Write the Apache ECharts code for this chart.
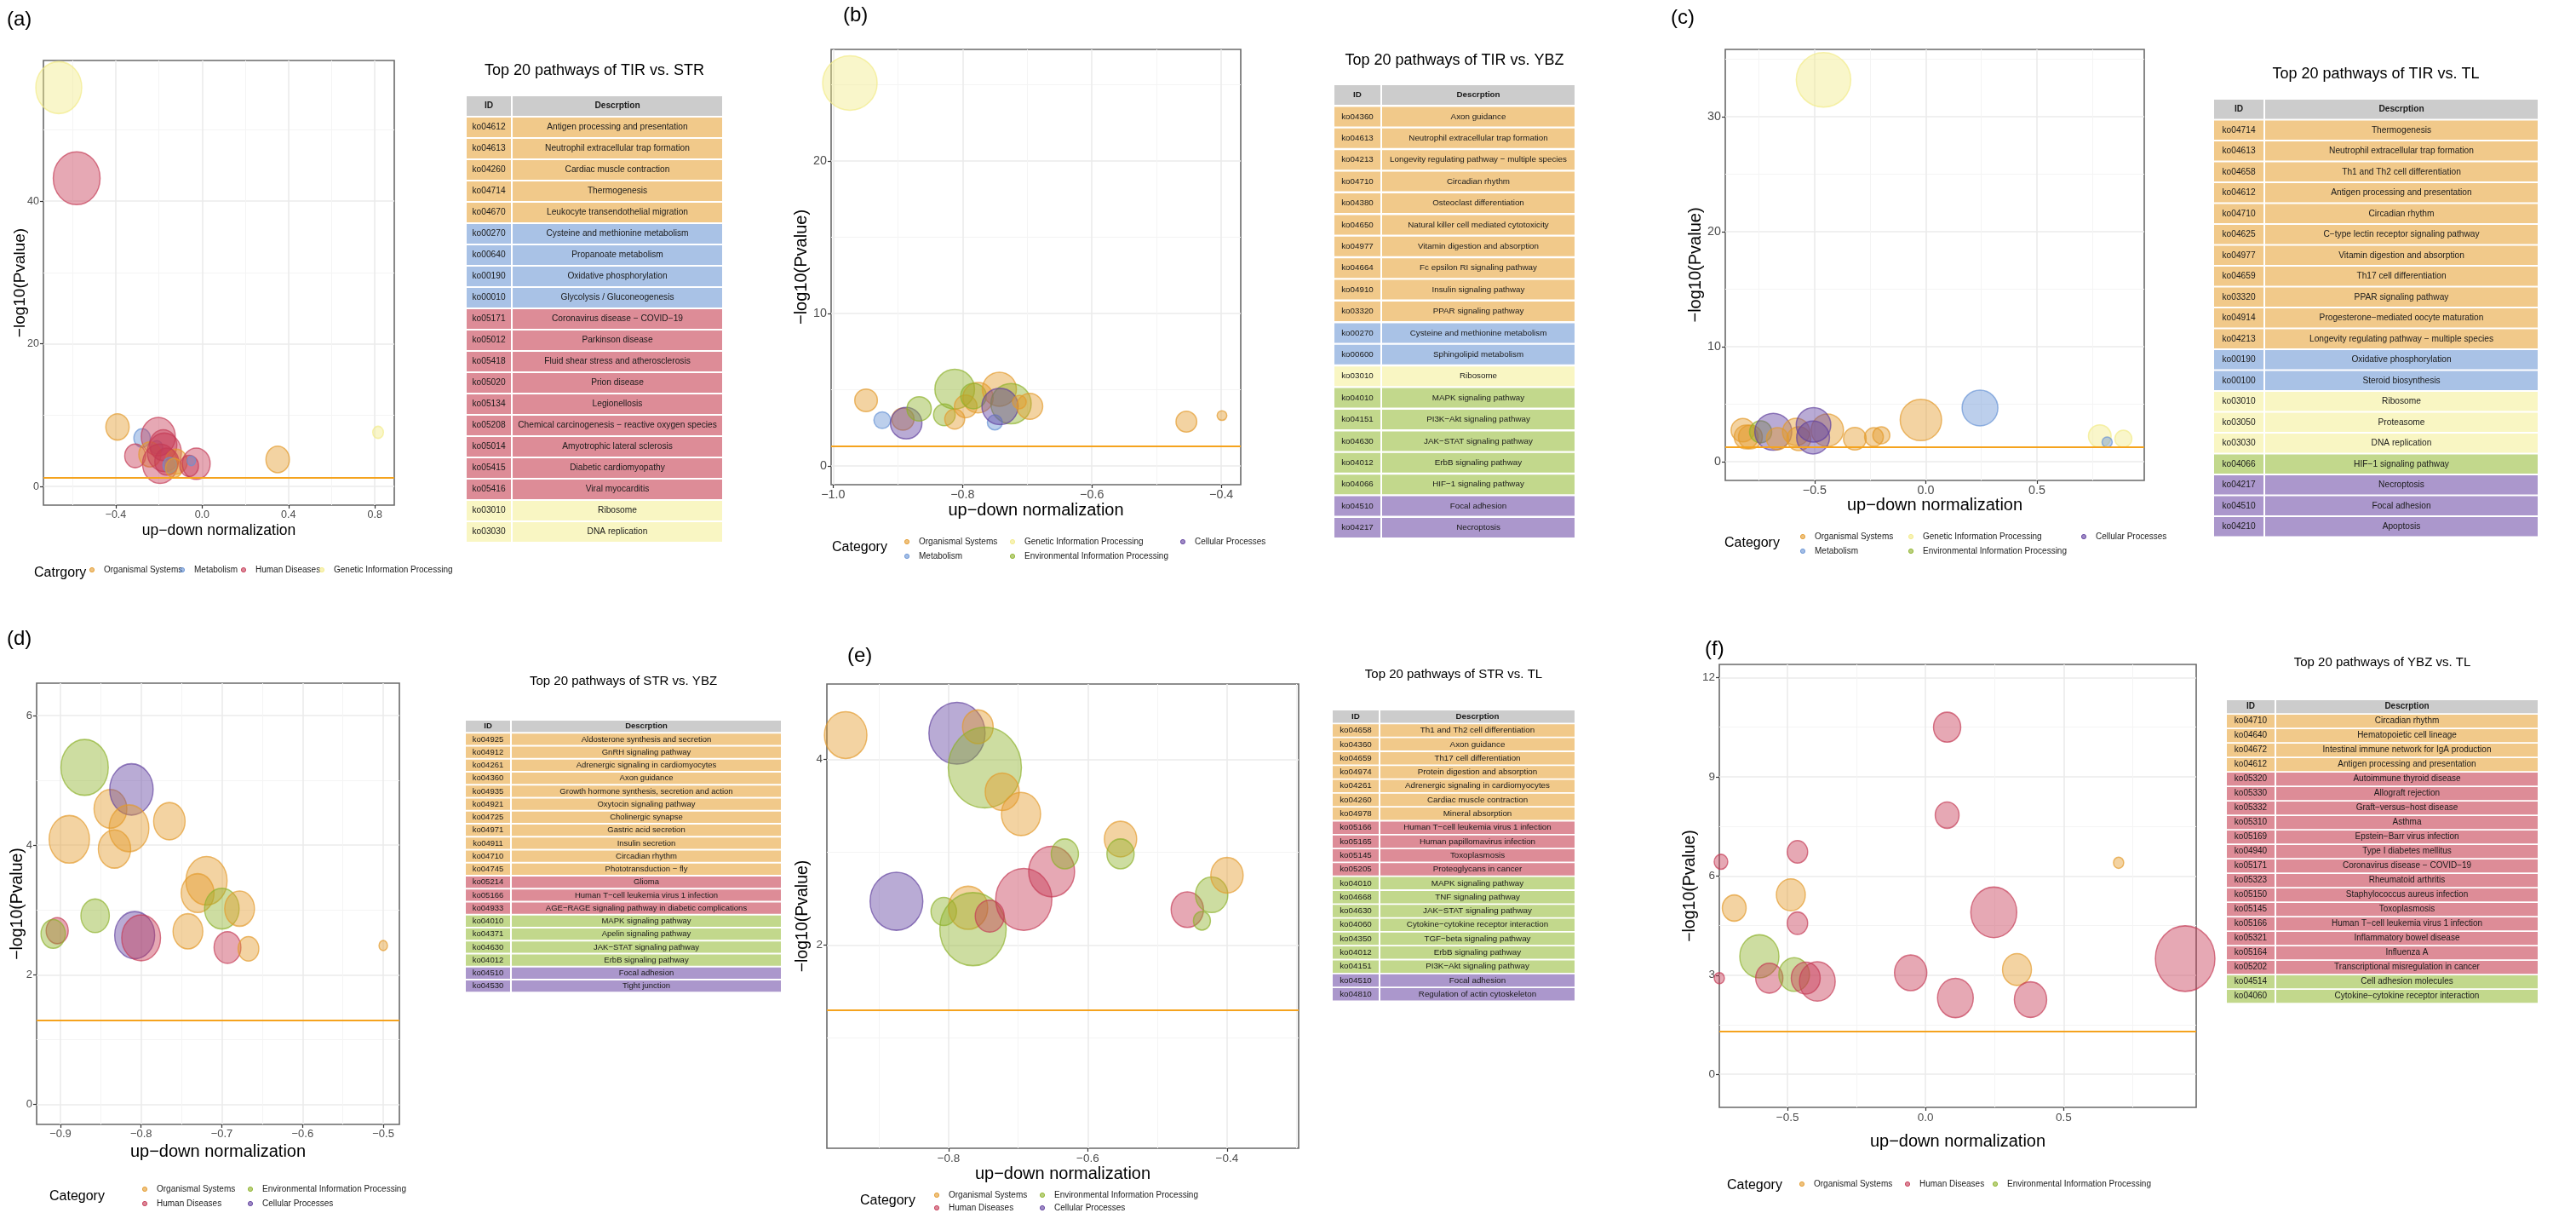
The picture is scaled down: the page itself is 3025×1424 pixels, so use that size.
<!DOCTYPE html>
<html>
<head>
<meta charset="utf-8">
<title>Top 20 pathways</title>
<script src="https://cdn.jsdelivr.net/npm/echarts@6/dist/echarts.min.js"></script>
<style>
html, body { margin: 0; padding: 0; background: #fff; }
#chart { width: 3025px; height: 1424px; }
</style>
</head>
<body>
<div id="chart"></div>
<script>
// ---- categories ----
var catNames = {
	O: 'Organismal Systems',
	M: 'Metabolism',
	H: 'Human Diseases',
	G: 'Genetic Information Processing',
	E: 'Environmental Information Processing',
	C: 'Cellular Processes'
};
var pCutoff = 0.05;

// ---- (a) TIR vs. STR ----  [up-down normalization, -log10(Pvalue), count, category]
var aPoints = [
	[-0.664, 55.9, 27, 'G'], [-0.581, 43.2, 27.5, 'H'], [-0.392, 8.36, 13.7, 'O'],
	[-0.278, 6.8, 9.7, 'M'], [-0.21, 5.5, 7, 'M'], [-0.203, 7.0, 20, 'H'],
	[-0.31, 4.3, 12.3, 'H'], [-0.242, 4.5, 13, 'O'], [-0.18, 5.8, 16, 'H'],
	[-0.195, 3.2, 20.5, 'H'], [-0.175, 4.8, 20, 'H'], [-0.12, 3.5, 13, 'O'],
	[-0.164, 3.5, 14, 'H'], [-0.15, 3.0, 8, 'M'], [-0.13, 2.6, 10, 'O'],
	[-0.06, 2.9, 11, 'H'], [-0.027, 3.2, 16.3, 'H'], [-0.05, 3.6, 5, 'M'],
	[0.35, 3.8, 13.8, 'O'], [0.815, 7.6, 6.3, 'G']
];
var aXTicks = [-0.4, 0, 0.4, 0.8];
var aYTicks = [0, 20, 40];
var aLegendCats = ['O', 'M', 'H', 'G'];
var aRows = [
	['ko04612', 'Antigen processing and presentation', 'O'],
	['ko04613', 'Neutrophil extracellular trap formation', 'O'],
	['ko04260', 'Cardiac muscle contraction', 'O'],
	['ko04714', 'Thermogenesis', 'O'],
	['ko04670', 'Leukocyte transendothelial migration', 'O'],
	['ko00270', 'Cysteine and methionine metabolism', 'M'],
	['ko00640', 'Propanoate metabolism', 'M'],
	['ko00190', 'Oxidative phosphorylation', 'M'],
	['ko00010', 'Glycolysis / Gluconeogenesis', 'M'],
	['ko05171', 'Coronavirus disease \u2212 COVID\u221219', 'H'],
	['ko05012', 'Parkinson disease', 'H'],
	['ko05418', 'Fluid shear stress and atherosclerosis', 'H'],
	['ko05020', 'Prion disease', 'H'],
	['ko05134', 'Legionellosis', 'H'],
	['ko05208', 'Chemical carcinogenesis \u2212 reactive oxygen species', 'H'],
	['ko05014', 'Amyotrophic lateral sclerosis', 'H'],
	['ko05415', 'Diabetic cardiomyopathy', 'H'],
	['ko05416', 'Viral myocarditis', 'H'],
	['ko03010', 'Ribosome', 'G'],
	['ko03030', 'DNA replication', 'G']
];

// ---- (b) TIR vs. YBZ ----
var bPoints = [
	[-0.974, 25.1, 32, 'G'], [-0.949, 4.30, 13.3, 'O'], [-0.924, 3.0, 9.8, 'M'],
	[-0.892, 3.07, 13, 'O'], [-0.887, 2.8, 18.5, 'C'], [-0.867, 3.74, 14.3, 'E'],
	[-0.828, 3.35, 12.7, 'E'], [-0.812, 3.07, 11.7, 'O'], [-0.812, 5.03, 23.3, 'E'],
	[-0.795, 3.9, 13.3, 'O'], [-0.776, 4.47, 17.8, 'O'], [-0.783, 4.58, 15, 'E'],
	[-0.743, 5.03, 20, 'O'], [-0.725, 4.08, 23.7, 'E'], [-0.75, 2.85, 8.8, 'M'],
	[-0.742, 3.9, 21.3, 'C'], [-0.712, 4.19, 8, 'O'], [-0.696, 3.91, 15.2, 'O'],
	[-0.454, 2.9, 12.2, 'O'], [-0.399, 3.3, 5.7, 'O']
];
var bXTicks = [-1.0, -0.8, -0.6, -0.4];
var bYTicks = [0, 10, 20];
var bLegendCats = ['O', 'M', 'G', 'E', 'C'];
var bRows = [
	['ko04360', 'Axon guidance', 'O'],
	['ko04613', 'Neutrophil extracellular trap formation', 'O'],
	['ko04213', 'Longevity regulating pathway \u2212 multiple species', 'O'],
	['ko04710', 'Circadian rhythm', 'O'],
	['ko04380', 'Osteoclast differentiation', 'O'],
	['ko04650', 'Natural killer cell mediated cytotoxicity', 'O'],
	['ko04977', 'Vitamin digestion and absorption', 'O'],
	['ko04664', 'Fc epsilon RI signaling pathway', 'O'],
	['ko04910', 'Insulin signaling pathway', 'O'],
	['ko03320', 'PPAR signaling pathway', 'O'],
	['ko00270', 'Cysteine and methionine metabolism', 'M'],
	['ko00600', 'Sphingolipid metabolism', 'M'],
	['ko03010', 'Ribosome', 'G'],
	['ko04010', 'MAPK signaling pathway', 'E'],
	['ko04151', 'PI3K\u2212Akt signaling pathway', 'E'],
	['ko04630', 'JAK\u2212STAT signaling pathway', 'E'],
	['ko04012', 'ErbB signaling pathway', 'E'],
	['ko04066', 'HIF\u22121 signaling pathway', 'E'],
	['ko04510', 'Focal adhesion', 'C'],
	['ko04217', 'Necroptosis', 'C']
];

// ---- (c) TIR vs. TL ----
var cPoints = [
	[-0.46, 33.2, 32, 'G'], [-0.823, 2.74, 13.8, 'O'], [-0.808, 2.15, 14, 'O'],
	[-0.789, 2.15, 14, 'O'], [-0.743, 2.6, 13, 'E'], [-0.686, 2.6, 21.7, 'C'],
	[-0.667, 2.0, 13, 'O'], [-0.583, 2.6, 16, 'O'], [-0.571, 2.0, 14, 'O'],
	[-0.443, 2.74, 19, 'O'], [-0.505, 3.2, 20.3, 'C'], [-0.507, 2.1, 19.3, 'C'],
	[-0.319, 2.0, 13.3, 'O'], [-0.233, 2.15, 11, 'O'], [-0.2, 2.3, 10, 'O'],
	[-0.022, 3.63, 24.3, 'O'], [0.244, 4.67, 21, 'M'], [0.783, 2.22, 13.3, 'G'],
	[0.816, 1.7, 6, 'M'], [0.889, 2.0, 10, 'G']
];
var cXTicks = [-0.5, 0, 0.5];
var cYTicks = [0, 10, 20, 30];
var cLegendCats = ['O', 'M', 'G', 'E', 'C'];
var cRows = [
	['ko04714', 'Thermogenesis', 'O'],
	['ko04613', 'Neutrophil extracellular trap formation', 'O'],
	['ko04658', 'Th1 and Th2 cell differentiation', 'O'],
	['ko04612', 'Antigen processing and presentation', 'O'],
	['ko04710', 'Circadian rhythm', 'O'],
	['ko04625', 'C\u2212type lectin receptor signaling pathway', 'O'],
	['ko04977', 'Vitamin digestion and absorption', 'O'],
	['ko04659', 'Th17 cell differentiation', 'O'],
	['ko03320', 'PPAR signaling pathway', 'O'],
	['ko04914', 'Progesterone\u2212mediated oocyte maturation', 'O'],
	['ko04213', 'Longevity regulating pathway \u2212 multiple species', 'O'],
	['ko00190', 'Oxidative phosphorylation', 'M'],
	['ko00100', 'Steroid biosynthesis', 'M'],
	['ko03010', 'Ribosome', 'G'],
	['ko03050', 'Proteasome', 'G'],
	['ko03030', 'DNA replication', 'G'],
	['ko04066', 'HIF\u22121 signaling pathway', 'E'],
	['ko04217', 'Necroptosis', 'C'],
	['ko04510', 'Focal adhesion', 'C'],
	['ko04210', 'Apoptosis', 'C']
];

// ---- (d) STR vs. YBZ ----
var dPoints = [
	[-0.870, 5.20, 27.8, 'E'], [-0.838, 4.56, 19.3, 'O'], [-0.812, 4.86, 25.5, 'C'],
	[-0.815, 4.26, 23.3, 'O'], [-0.889, 4.09, 23.7, 'O'], [-0.833, 3.94, 19, 'O'],
	[-0.765, 4.37, 18.5, 'O'], [-0.719, 3.45, 24.2, 'O'], [-0.730, 3.26, 19.3, 'O'],
	[-0.700, 3.02, 20.3, 'E'], [-0.678, 3.02, 17.5, 'O'], [-0.857, 2.91, 16.7, 'E'],
	[-0.904, 2.68, 13, 'H'], [-0.909, 2.63, 14.3, 'E'], [-0.808, 2.61, 23.5, 'C'],
	[-0.800, 2.57, 22.8, 'H'], [-0.742, 2.67, 17.5, 'O'], [-0.693, 2.42, 15.8, 'H'],
	[-0.667, 2.40, 12.2, 'O'], [-0.500, 2.45, 5, 'O']
];
var dXTicks = [-0.9, -0.8, -0.7, -0.6, -0.5];
var dYTicks = [0, 2, 4, 6];
var dLegendCats = ['O', 'H', 'E', 'C'];
var dRows = [
	['ko04925', 'Aldosterone synthesis and secretion', 'O'],
	['ko04912', 'GnRH signaling pathway', 'O'],
	['ko04261', 'Adrenergic signaling in cardiomyocytes', 'O'],
	['ko04360', 'Axon guidance', 'O'],
	['ko04935', 'Growth hormone synthesis, secretion and action', 'O'],
	['ko04921', 'Oxytocin signaling pathway', 'O'],
	['ko04725', 'Cholinergic synapse', 'O'],
	['ko04971', 'Gastric acid secretion', 'O'],
	['ko04911', 'Insulin secretion', 'O'],
	['ko04710', 'Circadian rhythm', 'O'],
	['ko04745', 'Phototransduction \u2212 fly', 'O'],
	['ko05214', 'Glioma', 'H'],
	['ko05166', 'Human T\u2212cell leukemia virus 1 infection', 'H'],
	['ko04933', 'AGE\u2212RAGE signaling pathway in diabetic complications', 'H'],
	['ko04010', 'MAPK signaling pathway', 'E'],
	['ko04371', 'Apelin signaling pathway', 'E'],
	['ko04630', 'JAK\u2212STAT signaling pathway', 'E'],
	['ko04012', 'ErbB signaling pathway', 'E'],
	['ko04510', 'Focal adhesion', 'C'],
	['ko04530', 'Tight junction', 'C']
];

// ---- (e) STR vs. TL ----
var ePoints = [
	[-0.948, 4.26, 25, 'O'], [-0.788, 4.28, 33, 'C'], [-0.758, 4.35, 18, 'O'],
	[-0.748, 3.91, 43, 'E'], [-0.723, 3.65, 20, 'O'], [-0.696, 3.41, 23, 'O'],
	[-0.875, 2.47, 31, 'C'], [-0.807, 2.36, 15, 'E'], [-0.772, 2.40, 23, 'O'],
	[-0.765, 2.17, 39, 'E'], [-0.741, 2.31, 17, 'H'], [-0.692, 2.49, 33, 'H'],
	[-0.652, 2.79, 27, 'H'], [-0.633, 2.98, 16, 'E'], [-0.553, 3.14, 19, 'O'],
	[-0.553, 2.98, 16, 'E'], [-0.457, 2.38, 19, 'H'], [-0.422, 2.54, 19, 'E'],
	[-0.436, 2.26, 10, 'E'], [-0.400, 2.75, 19, 'O']
];
var eXTicks = [-0.8, -0.6, -0.4];
var eYTicks = [2, 4];
var eLegendCats = ['O', 'H', 'E', 'C'];
var eRows = [
	['ko04658', 'Th1 and Th2 cell differentiation', 'O'],
	['ko04360', 'Axon guidance', 'O'],
	['ko04659', 'Th17 cell differentiation', 'O'],
	['ko04974', 'Protein digestion and absorption', 'O'],
	['ko04261', 'Adrenergic signaling in cardiomyocytes', 'O'],
	['ko04260', 'Cardiac muscle contraction', 'O'],
	['ko04978', 'Mineral absorption', 'O'],
	['ko05166', 'Human T\u2212cell leukemia virus 1 infection', 'H'],
	['ko05165', 'Human papillomavirus infection', 'H'],
	['ko05145', 'Toxoplasmosis', 'H'],
	['ko05205', 'Proteoglycans in cancer', 'H'],
	['ko04010', 'MAPK signaling pathway', 'E'],
	['ko04668', 'TNF signaling pathway', 'E'],
	['ko04630', 'JAK\u2212STAT signaling pathway', 'E'],
	['ko04060', 'Cytokine\u2212cytokine receptor interaction', 'E'],
	['ko04350', 'TGF\u2212beta signaling pathway', 'E'],
	['ko04012', 'ErbB signaling pathway', 'E'],
	['ko04151', 'PI3K\u2212Akt signaling pathway', 'E'],
	['ko04510', 'Focal adhesion', 'C'],
	['ko04810', 'Regulation of actin cytoskeleton', 'C']
];

// ---- (f) YBZ vs. TL ----
var fPoints = [
	[-0.741, 6.43, 8, 'H'], [-0.693, 5.03, 14, 'O'], [-0.747, 2.91, 6, 'H'],
	[-0.602, 3.57, 23, 'E'], [-0.566, 2.91, 16, 'H'], [-0.476, 3.02, 18, 'E'],
	[-0.392, 2.81, 21, 'H'], [-0.434, 2.91, 17, 'H'], [-0.488, 5.43, 17, 'O'],
	[-0.464, 6.73, 12, 'H'], [-0.464, 4.57, 12, 'H'], [0.078, 10.5, 16, 'H'],
	[0.078, 7.84, 14, 'H'], [0.247, 4.9, 27, 'H'], [-0.054, 3.07, 19, 'H'],
	[0.108, 2.31, 21, 'H'], [0.331, 3.17, 17, 'O'], [0.380, 2.26, 19, 'H'],
	[0.699, 6.4, 6, 'O'], [0.94, 3.5, 35, 'H']
];
var fXTicks = [-0.5, 0, 0.5];
var fYTicks = [0, 3, 6, 9, 12];
var fLegendCats = ['O', 'H', 'E'];
var fRows = [
	['ko04710', 'Circadian rhythm', 'O'],
	['ko04640', 'Hematopoietic cell lineage', 'O'],
	['ko04672', 'Intestinal immune network for IgA production', 'O'],
	['ko04612', 'Antigen processing and presentation', 'O'],
	['ko05320', 'Autoimmune thyroid disease', 'H'],
	['ko05330', 'Allograft rejection', 'H'],
	['ko05332', 'Graft\u2212versus\u2212host disease', 'H'],
	['ko05310', 'Asthma', 'H'],
	['ko05169', 'Epstein\u2212Barr virus infection', 'H'],
	['ko04940', 'Type I diabetes mellitus', 'H'],
	['ko05171', 'Coronavirus disease \u2212 COVID\u221219', 'H'],
	['ko05323', 'Rheumatoid arthritis', 'H'],
	['ko05150', 'Staphylococcus aureus infection', 'H'],
	['ko05145', 'Toxoplasmosis', 'H'],
	['ko05166', 'Human T\u2212cell leukemia virus 1 infection', 'H'],
	['ko05321', 'Inflammatory bowel disease', 'H'],
	['ko05164', 'Influenza A', 'H'],
	['ko05202', 'Transcriptional misregulation in cancer', 'H'],
	['ko04514', 'Cell adhesion molecules', 'E'],
	['ko04060', 'Cytokine\u2212cytokine receptor interaction', 'E']
];

// ---- styles ----
var FONT = '"Liberation Sans", Arial, sans-serif';
var bubbleColor = { O: '#E39A2B', M: '#6792D4', H: '#C53A55', G: '#F2EA86', E: '#8DB22A', C: '#60409F' };
var rowColor = { O: '#F1C98A', M: '#A9C2E6', H: '#DD8C97', G: '#F9F6C3', E: '#C2D88C', C: '#AB97CC' };
var headColor = '#CCCCCC';

// layout of the six panels (positions only)
var panels = [
	{ label: '(a)', labelPos: [8, 23], pts: aPoints, xt: aXTicks, yt: aYTicks, rows: aRows,
		title: 'Top 20 pathways of TIR vs. STR', legendTitle: 'Catrgory', legendCats: aLegendCats,
		grid: { left: 51, top: 71, width: 412, height: 522 }, xr: [-0.735, 0.89], yr: [-2.6, 59.7],
		aspect: 1.13, tickFont: 12.5, xTitle: 17.5, yTitle: 19, xGap: 21, yGap: 18,
		table: { left: 548, top: 113, idW: 52, descW: 246, pitch: 25.0, rowH: 23, font: 10.2, titleY: 83, titleFont: 18 },
		legend: { x: 40, titleY: 673, nrow: 1, colX: [108, 214, 286, 378], rowY: [669] } },
	{ label: '(b)', labelPos: [990, 18], pts: bPoints, xt: bXTicks, yt: bYTicks, rows: bRows,
		title: 'Top 20 pathways of TIR vs. YBZ', legendTitle: 'Category', legendCats: bLegendCats,
		grid: { left: 976, top: 58, width: 481, height: 511 }, xr: [-1.003, -0.37], yr: [-1.23, 27.3],
		aspect: 1.0, tickFont: 14.3, xTitle: 20, yTitle: 20, xGap: 20, yGap: 25,
		table: { left: 1567, top: 100, idW: 54, descW: 226, pitch: 25.4, rowH: 23, font: 9.8, titleY: 71, titleFont: 18 },
		legend: { x: 977, titleY: 643, nrow: 2, colX: [1065, 1189, 1389], rowY: [636, 653] } },
	{ label: '(c)', labelPos: [1962, 21], pts: cPoints, xt: cXTicks, yt: cYTicks, rows: cRows,
		title: 'Top 20 pathways of TIR vs. TL', legendTitle: 'Category', legendCats: cLegendCats,
		grid: { left: 2026, top: 58, width: 492, height: 506 }, xr: [-0.902, 0.983], yr: [-1.63, 35.85],
		aspect: 1.0, tickFont: 14.3, xTitle: 20, yTitle: 20, xGap: 19, yGap: 25,
		table: { left: 2600, top: 117, idW: 58, descW: 320, pitch: 24.5, rowH: 22.5, font: 10.2, titleY: 87, titleFont: 18 },
		legend: { x: 2025, titleY: 638, nrow: 2, colX: [2117, 2244, 2447], rowY: [630, 647] } },
	{ label: '(d)', labelPos: [8, 750], pts: dPoints, xt: dXTicks, yt: dYTicks, rows: dRows,
		title: 'Top 20 pathways of STR vs. YBZ', legendTitle: 'Category', legendCats: dLegendCats,
		grid: { left: 43, top: 802, width: 426, height: 518 }, xr: [-0.9295, -0.48], yr: [-0.31, 6.5],
		aspect: 1.18, tickFont: 13, xTitle: 20, yTitle: 19.5, xGap: 22, yGap: 12,
		table: { left: 547, top: 846, idW: 52, descW: 316, pitch: 15.25, rowH: 13.3, font: 9.5, titleY: 800, titleFont: 15 },
		legend: { x: 58, titleY: 1405, nrow: 2, colX: [170, 294], rowY: [1396, 1413] } },
	{ label: '(e)', labelPos: [995, 770], pts: ePoints, xt: eXTicks, yt: eYTicks, rows: eRows,
		title: 'Top 20 pathways of STR vs. TL', legendTitle: 'Category', legendCats: eLegendCats,
		grid: { left: 971, top: 803, width: 554, height: 545 }, xr: [-0.975, -0.297], yr: [-0.19, 4.81],
		aspect: 1.1, tickFont: 13.5, xTitle: 20, yTitle: 19.5, xGap: 20, yGap: 18,
		table: { left: 1565, top: 834, idW: 54, descW: 228, pitch: 16.3, rowH: 14.5, font: 9.8, titleY: 792, titleFont: 15 },
		legend: { x: 1010, titleY: 1410, nrow: 2, colX: [1100, 1224], rowY: [1403, 1418] } },
	{ label: '(f)', labelPos: [2002, 762], pts: fPoints, xt: fXTicks, yt: fYTicks, rows: fRows,
		title: 'Top 20 pathways of YBZ vs. TL', legendTitle: 'Category', legendCats: fLegendCats,
		grid: { left: 2019, top: 780, width: 560, height: 520 }, xr: [-0.747, 0.98], yr: [-1.0, 12.4],
		aspect: 1.1, tickFont: 13.5, xTitle: 20, yTitle: 19.5, xGap: 30, yGap: 24,
		table: { left: 2615, top: 822, idW: 56, descW: 307, pitch: 17, rowH: 15.2, font: 10, titleY: 778, titleFont: 15 },
		legend: { x: 2028, titleY: 1392, nrow: 1, colX: [2116, 2240, 2343], rowY: [1390] } }
];

function rgba(hex, a) {
	var n = parseInt(hex.slice(1), 16);
	return 'rgba(' + (n >> 16 & 255) + ',' + (n >> 8 & 255) + ',' + (n & 255) + ',' + a + ')';
}
function fmt(dec) {
	return function (v) {
		var s = Math.abs(v).toFixed(dec);
		return (v < -1e-9 ? '\u2212' : '') + s;
	};
}
function decimals(ticks) {
	var d = 0;
	ticks.forEach(function (t) {
		var s = String(t).split('.')[1];
		if (s && s.length > d) d = s.length;
	});
	return d;
}
// ggplot-style minor grid: halfway between the major breaks
function minorOf(ticks, min, max) {
	var step = ticks[1] - ticks[0], out = [];
	for (var v = ticks[0] - step / 2; v <= max + 1e-9; v += step) {
		var r = Math.round(v * 1e6) / 1e6;
		if (r >= min) out.push(r);
	}
	return out;
}

var grids = [], xAxes = [], yAxes = [], series = [], graphics = [];
var cutoffY = -Math.log10(pCutoff);

panels.forEach(function (p, i) {
	grids.push({
		left: p.grid.left, top: p.grid.top, width: p.grid.width, height: p.grid.height,
		show: true, backgroundColor: '#fff', borderColor: '#6A6A6A', borderWidth: 1.6,
		containLabel: false, outerBoundsMode: 'none'
	});
	var xDec = decimals(p.xt);
	xAxes.push({
		gridIndex: i, type: 'value', min: p.xr[0], max: p.xr[1], position: 'bottom',
		axisLine: { show: false, onZero: false },
		axisTick: { show: true, length: 4, lineStyle: { color: '#333', width: 1.2 }, customValues: p.xt },
		axisLabel: { show: true, customValues: p.xt, formatter: fmt(xDec === 0 ? 1 : xDec), fontSize: p.tickFont, color: '#4D4D4D', fontFamily: FONT, margin: 5 },
		splitLine: { show: true, lineStyle: { color: '#EBEBEB', width: 1.6 } },
		name: 'up\u2212down normalization', nameLocation: 'middle', nameGap: p.xGap, nameMoveOverlap: false,
		nameTextStyle: { fontSize: p.xTitle, color: '#000', fontFamily: FONT, verticalAlign: 'top' }
	});
	xAxes.push({
		gridIndex: i, type: 'value', min: p.xr[0], max: p.xr[1], position: 'top',
		axisLine: { show: false, onZero: false },
		axisTick: { show: false, customValues: minorOf(p.xt, p.xr[0], p.xr[1]) },
		axisLabel: { show: false },
		splitLine: { show: true, lineStyle: { color: '#F4F4F4', width: 1 } }
	});
	yAxes.push({
		gridIndex: i, type: 'value', min: p.yr[0], max: p.yr[1], position: 'left',
		axisLine: { show: false, onZero: false },
		axisTick: { show: true, length: 4, lineStyle: { color: '#333', width: 1.2 }, customValues: p.yt },
		axisLabel: { show: true, customValues: p.yt, formatter: fmt(0), fontSize: p.tickFont, color: '#4D4D4D', fontFamily: FONT, margin: 5 },
		splitLine: { show: true, lineStyle: { color: '#EBEBEB', width: 1.6 } },
		name: '\u2212log10(Pvalue)', nameLocation: 'middle', nameGap: p.yGap, nameMoveOverlap: false,
		nameTextStyle: { fontSize: p.yTitle, color: '#000', fontFamily: FONT }
	});
	yAxes.push({
		gridIndex: i, type: 'value', min: p.yr[0], max: p.yr[1], position: 'right',
		axisLine: { show: false, onZero: false },
		axisTick: { show: false, customValues: minorOf(p.yt, p.yr[0], p.yr[1]) },
		axisLabel: { show: false },
		splitLine: { show: true, lineStyle: { color: '#F4F4F4', width: 1 } }
	});

	series.push({
		type: 'scatter', xAxisIndex: 2 * i, yAxisIndex: 2 * i,
		symbol: 'circle',
		symbolSize: (function (asp) {
			return function (v) { return [2 * v[2], 2 * v[2] * asp]; };
		})(p.aspect),
		data: p.pts.map(function (d) {
			return {
				value: [d[0], d[1], d[2]],
				itemStyle: { color: rgba(bubbleColor[d[3]], 0.55), borderColor: rgba(bubbleColor[d[3]], 0.85), borderWidth: 1.5 }
			};
		}),
		clip: true, silent: true, animation: false,
		markLine: {
			silent: true, symbol: ['none', 'none'], label: { show: false }, animation: false,
			lineStyle: { color: '#F5A31E', width: 2, type: 'solid' },
			data: [{ yAxis: cutoffY }]
		}
	});

	// panel letter
	graphics.push({
		type: 'text', x: p.labelPos[0], y: p.labelPos[1],
		style: { text: p.label, font: '24px ' + FONT, fill: '#000', textAlign: 'left', textVerticalAlign: 'middle' }
	});

	// pathway table
	var t = p.table, gap = 2, total = t.idW + gap + t.descW;
	graphics.push({
		type: 'text', x: t.left + total / 2, y: t.titleY,
		style: { text: p.title, font: t.titleFont + 'px ' + FONT, fill: '#000', textAlign: 'center', textVerticalAlign: 'middle' }
	});
	[['ID', 'Descrption', null]].concat(p.rows).forEach(function (r, k) {
		var y = t.top + k * t.pitch;
		var fill = k === 0 ? headColor : rowColor[r[2]];
		var font = (k === 0 ? 'bold ' : '') + t.font + 'px ' + FONT;
		graphics.push({ type: 'rect', shape: { x: t.left, y: y, width: t.idW, height: t.rowH }, style: { fill: fill } });
		graphics.push({ type: 'rect', shape: { x: t.left + t.idW + gap, y: y, width: t.descW, height: t.rowH }, style: { fill: fill } });
		graphics.push({ type: 'text', x: t.left + t.idW / 2, y: y + t.rowH / 2,
			style: { text: r[0], font: font, fill: '#1A1A1A', textAlign: 'center', textVerticalAlign: 'middle' } });
		graphics.push({ type: 'text', x: t.left + t.idW + gap + t.descW / 2, y: y + t.rowH / 2,
			style: { text: r[1], font: font, fill: '#1A1A1A', textAlign: 'center', textVerticalAlign: 'middle' } });
	});

	// category legend
	var L = p.legend;
	graphics.push({
		type: 'text', x: L.x, y: L.titleY,
		style: { text: p.legendTitle, font: '16px ' + FONT, fill: '#000', textAlign: 'left', textVerticalAlign: 'middle' }
	});
	p.legendCats.forEach(function (c, k) {
		var cx = L.colX[Math.floor(k / L.nrow)], cy = L.rowY[k % L.nrow];
		graphics.push({ type: 'circle', shape: { cx: cx, cy: cy, r: 2.6 },
			style: { fill: rgba(bubbleColor[c], 0.6), stroke: rgba(bubbleColor[c], 0.9), lineWidth: 1 } });
		graphics.push({ type: 'text', x: cx + 14, y: cy,
			style: { text: catNames[c], font: '10px ' + FONT, fill: '#1A1A1A', textAlign: 'left', textVerticalAlign: 'middle' } });
	});
});

var chart = echarts.init(document.getElementById('chart'), null, { renderer: 'canvas' });
chart.setOption({
	backgroundColor: '#fff',
	animation: false,
	grid: grids,
	xAxis: xAxes,
	yAxis: yAxes,
	series: series,
	graphic: { elements: graphics }
});
</script>
</body>
</html>
